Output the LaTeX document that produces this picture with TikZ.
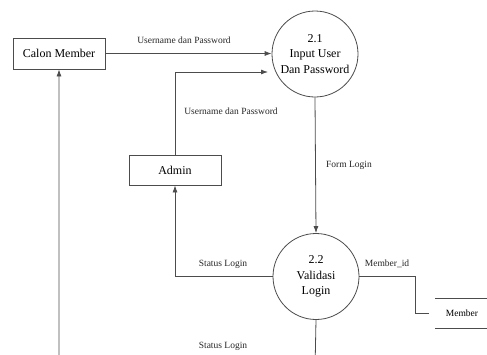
\documentclass[tikz,border=0pt]{standalone}
\usepackage{fontspec}
\setmainfont{Liberation Serif}
\usetikzlibrary{arrows.meta}
\begin{document}
\begin{tikzpicture}[x=1pt,y=-1pt,
  line/.style={draw=black!70, line width=0.8pt},
  flow/.style={line, -{Latex[length=7pt,width=5pt]}},
  entity/.style={draw=black!70, line width=0.8pt, minimum width=92pt, minimum height=31pt,
    inner sep=0pt, font=\fontsize{12}{14}\selectfont},
  process/.style={draw=black!70, line width=0.8pt, circle, minimum size=86pt, inner sep=0pt,
    align=center, font=\fontsize{12}{15.5}\selectfont},
  lbl/.style={font=\fontsize{9.5}{11}\selectfont, inner sep=0pt, text=black!85}]
  \useasboundingbox (0,0) rectangle (487,354);
  \clip (0,0) rectangle (487,354);

  % external entities
  \node[entity] (cm) at (59,53.5) {Calon Member};
  \node[entity, minimum height=30pt] (ad) at (175,170) {Admin};

  % processes
  \node[process] (p21) at (315,54) {2.1\\Input User\\Dan Password};
  \node[process] (p22) at (316,276.5) {2.2\\Validasi\\Login};

  % data store
  \node[font=\fontsize{9.5}{11}\selectfont, inner sep=0pt] (ms) at (462,313.5) {Member};
  \coordinate (msa) at (435,298);
  \coordinate (msb) at (492,298);
  \coordinate (msc) at (435,328.5);
  \coordinate (msd) at (492,328.5);
  \draw[line] (msa) -- (msb);
  \draw[line] (msc) -- (msd);

  % helper points
  \coordinate (adin) at (268,72);
  \coordinate (mbend) at (415,276.5);
  \coordinate (mend) at (429,313.5);
  \coordinate (low) at (315,370);

  % flows
  \draw[flow] (cm.east) -- (cm.east -| p21.west);
  \draw[flow] (ad.north) |- (adin);
  \draw[flow] (p21.south) -- (p22.north);
  \draw[flow] (p22.west) -| (ad.south);
  \draw[line] (p22.east) -- (mbend) |- (mend);
  \draw[flow] (p22.south) -- (low) -| (cm.south);

  % flow labels
  \node[lbl] (l1) at (184,40) {Username dan Password};
  \node[lbl] (l2) at (231,111) {Username dan Password};
  \node[lbl, anchor=west] (l3) at (326,165) {Form Login};
  \node[lbl] (l4) at (223,264) {Status Login};
  \node[lbl] (l5) at (387,264) {Member\_id};
  \node[lbl] (l6) at (223,346) {Status Login};
\end{tikzpicture}
\end{document}
